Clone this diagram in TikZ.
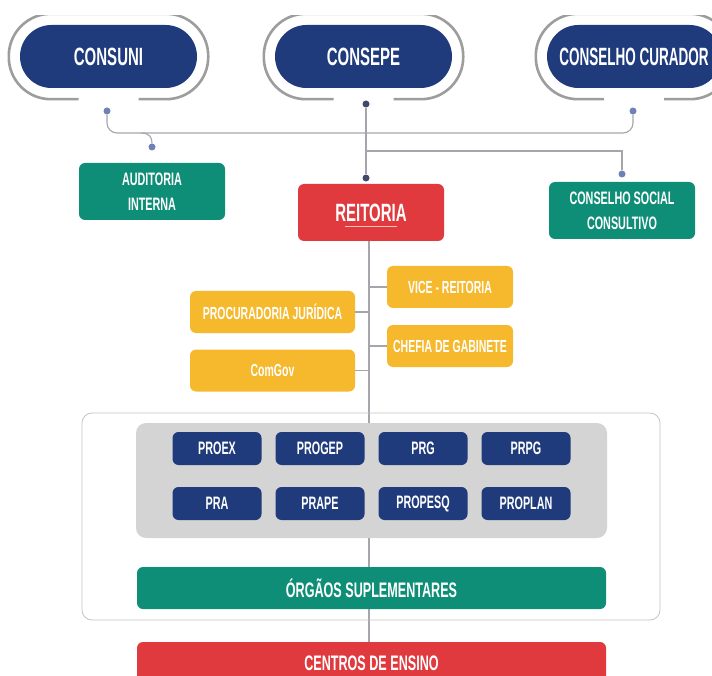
\documentclass[tikz,border=0pt]{standalone}
\usepackage{fontspec}
\newfontfamily\orgfont{Liberation Sans}[FakeStretch=0.6]
\newfontfamily\orgnarrow{Liberation Sans}[FakeStretch=0.54]
\usetikzlibrary{calc,positioning,backgrounds}

\definecolor{navybox}{HTML}{1F3B7C}
\definecolor{tealbox}{HTML}{0E8E77}
\definecolor{redbox}{HTML}{E0393E}
\definecolor{yellowbox}{HTML}{F6B82C}
\definecolor{panelgray}{HTML}{D4D4D4}
\definecolor{ringgray}{HTML}{9D9D9D}
\definecolor{wiregray}{HTML}{A4A6AC}
\definecolor{dotlight}{HTML}{6F81B6}
\definecolor{dotdark}{HTML}{404B6C}

\tikzset{
 orgtext/.style={text=white,align=center,inner sep=0pt,
  font=\orgfont\bfseries\fontsize{#1}{25}\selectfont},
 pill/.style={orgtext=25,fill=navybox,rounded corners=31.5pt,
  minimum width=177pt,minimum height=63pt},
 ring/.style={draw=ringgray,line width=2.6pt,rounded corners=42pt},
 greenbox/.style={orgtext=18,fill=tealbox,rounded corners=6pt,
  minimum width=146pt,minimum height=57pt},
 yellowtag/.style={orgtext=17.5,fill=yellowbox,rounded corners=6pt,
  minimum height=42pt},
 probox/.style={orgtext=18,fill=navybox,rounded corners=6pt,
  minimum width=89pt,minimum height=33pt},
 widebar/.style={orgtext=21,rounded corners=6pt,
  minimum width=469pt,minimum height=42pt},
 wire/.style={draw=wiregray,line width=1.1pt},
 wdot/.style={circle,inner sep=0pt,minimum size=7pt},
}

% open ring round a council pill, gap at the bottom
\newcommand\ringaround[1]{%
 \draw[ring] ($(#1.south)+(30,11)$) -- ($(#1.south east)+(11,11)$)
  -- ($(#1.north east)+(11,-11)$) -- ($(#1.north west)+(-11,-11)$)
  -- ($(#1.south west)+(-11,11)$) -- ($(#1.south)+(-30,11)$);}

\begin{document}
\begin{tikzpicture}[x=1pt,y=-1pt]
 \useasboundingbox (0,0) rectangle (712,676);

 % councils
 \node[pill] (consuni) at (108.5,56.5) {CONSUNI};
 \node[pill] (consepe) at (363.5,56.5) {CONSEPE};
 \node[pill,minimum width=174pt,font=\orgnarrow\bfseries\fontsize{25}{25}\selectfont]
  (curador) at (634,56.5) {CONSELHO CURADOR};
 \begin{scope}
  \clip (0,16) rectangle (712,676);
  \ringaround{consuni}
  \ringaround{consepe}
  \ringaround{curador}
 \end{scope}

 % advisory and rectorate
 \node[greenbox] (auditoria) at (152,191.5) {AUDITORIA\\INTERNA};
 \node[greenbox] (social) at (622,210.5) {CONSELHO SOCIAL\\CONSULTIVO};
 \node[orgtext=25,fill=redbox,rounded corners=6pt,minimum width=146pt,
  minimum height=57pt] (reitoria) at (371,212.5) {REITORIA};
 \draw[draw=red!25!white,line width=1pt] ($(reitoria.center)+(-26,14.5)$) -- ++(52,0);

 \node[wdot,fill=dotlight] (consunidot) at (107,111) {};
 \node[wdot,fill=dotdark] (consepedot) at (366,104) {};
 \node[wdot,fill=dotlight] (curadordot) at (633,111) {};
 \node[wdot,fill=dotlight] (auditdot) at (152,147) {};
 \node[wdot,fill=dotdark] (reitdot) at (366,178) {};
 \node[wdot,fill=dotlight] (socialdot) at (622,174) {};

 % staff offices
 \node[yellowtag,minimum width=126pt] (vice) at (450,287) {VICE - REITORIA};
 \node[yellowtag,minimum width=126pt] (chefia) at (450,346) {CHEFIA DE GABINETE};
 \node[yellowtag,minimum width=165pt] (procuradoria) at (272.5,312) {PROCURADORIA JURÍDICA};
 \node[yellowtag,minimum width=165pt] (comgov) at (272.5,370.5) {ComGov};

 % pro-rectorates
 \node[draw=ringgray!60,line width=0.8pt,rounded corners=10pt,
  minimum width=578pt,minimum height=207pt] (outerbox) at (371,516.5) {};
 \node[fill=panelgray,rounded corners=10pt,minimum width=471pt,
  minimum height=115pt] (panel) at (371.5,480.5) {};
 \node[probox] (proex) at (217,448.5) {PROEX};
 \node[probox] (progep) at (320,448.5) {PROGEP};
 \node[probox] (prg) at (423,448.5) {PRG};
 \node[probox] (prpg) at (526,448.5) {PRPG};
 \node[probox] (pra) at (217,503.5) {PRA};
 \node[probox] (prape) at (320,503.5) {PRAPE};
 \node[probox] (propesq) at (423,503.5) {PROPESQ};
 \node[probox] (proplan) at (526,503.5) {PROPLAN};
 \node[widebar,fill=tealbox] (orgaos) at (371.5,588) {ÓRGÃOS SUPLEMENTARES};
 \node[widebar,fill=redbox] (centros) at (371.5,663) {CENTROS DE ENSINO};

 \coordinate (bus) at (400,133);
 \coordinate (audtap) at (141,133);
 \coordinate (socialtap) at (500,151);
 \coordinate (trunk) at (369,0);

 \begin{scope}[on background layer]
  \draw[wire,rounded corners=10pt] (consunidot) -- (consunidot |- bus)
   -- (curadordot |- bus) -- (curadordot);
  \draw[wire] (audtap) .. controls +(9,0) and +(0,-9) .. (auditdot);
  \draw[wire] (consepedot) -- (reitdot);
  \draw[wire] (consepedot |- socialtap) -| (socialdot);
  \draw[wire] (reitoria.south -| trunk) -- (centros.north -| trunk);
  \draw[wire] (vice.west) -- (vice.west -| trunk);
  \draw[wire] (chefia.west) -- (chefia.west -| trunk);
  \draw[wire] (procuradoria.east) -- (procuradoria.east -| trunk);
  \draw[wire] (comgov.east) -- (comgov.east -| trunk);
 \end{scope}
\end{tikzpicture}
\end{document}
